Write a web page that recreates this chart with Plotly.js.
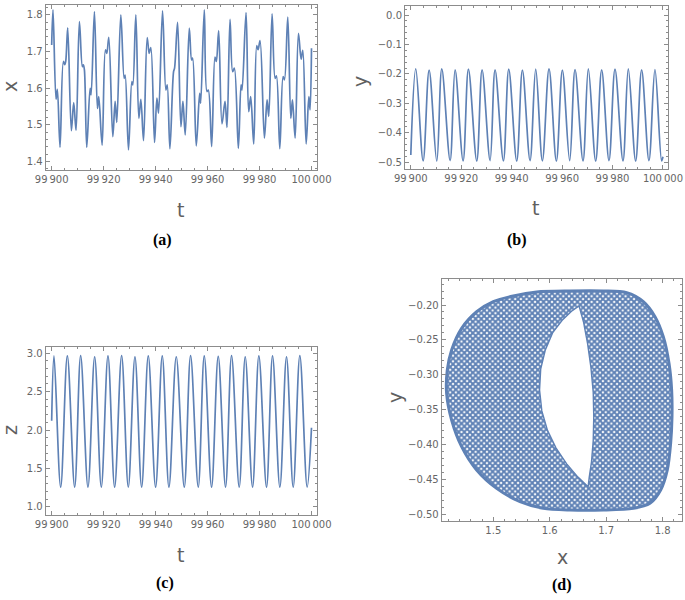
<!DOCTYPE html>
<html>
<head>
<meta charset="utf-8">
<script src="https://cdn.plot.ly/plotly-3.0.1.min.js"></script>
<style>html,body{margin:0;padding:0;background:#fff;}</style>
</head>
<body>
<div id="chart" style="width:685px;height:600px;"></div>
<script>
// ---------- (a) x(t) ----------
const tA = [99900.00, 99900.51, 99901.67, 99902.19, 99903.21, 99904.50, 99905.01, 99905.40, 99906.17, 99907.58,
  99908.48, 99909.38, 99910.67, 99911.82, 99912.21, 99912.60, 99913.50, 99914.78, 99915.17, 99916.45,
  99917.61, 99918.12, 99919.41, 99920.69, 99921.21, 99921.98, 99923.52, 99924.42, 99925.06, 99926.61,
  99927.89, 99928.28, 99929.56, 99930.85, 99931.23, 99932.39, 99933.55, 99934.32, 99935.35, 99936.76,
  99937.53, 99938.17, 99939.59, 99940.49, 99941.13, 99942.67, 99943.96, 99944.47, 99945.50, 99946.91,
  99947.30, 99948.46, 99949.74, 99950.51, 99951.41, 99952.96, 99953.86, 99954.24, 99955.65, 99956.94,
  99957.33, 99958.74, 99959.77, 99960.28, 99961.57, 99962.85, 99963.37, 99964.27, 99965.55, 99966.71,
  99967.48, 99968.64, 99969.66, 99970.31, 99971.85, 99972.88, 99973.26, 99974.81, 99975.83, 99976.60,
  99977.76, 99978.92, 99979.43, 99980.20, 99981.87, 99982.90, 99983.55, 99984.83, 99985.99, 99986.50,
  99987.79, 99989.07, 99989.59, 99990.87, 99992.03, 99992.67, 99993.70, 99994.98, 99996.01, 99996.65,
  99997.94, 99998.97, 99999.45, 100000.00];
const xA = [1.718, 1.814, 1.570, 1.597, 1.439, 1.673, 1.664, 1.673, 1.765, 1.484,
  1.561, 1.485, 1.782, 1.659, 1.664, 1.650, 1.439, 1.600, 1.582, 1.809,
  1.545, 1.577, 1.445, 1.705, 1.695, 1.739, 1.468, 1.564, 1.507, 1.800,
  1.627, 1.636, 1.432, 1.618, 1.609, 1.800, 1.518, 1.570, 1.457, 1.738,
  1.695, 1.711, 1.452, 1.573, 1.532, 1.811, 1.595, 1.609, 1.435, 1.645,
  1.655, 1.780, 1.495, 1.564, 1.473, 1.764, 1.677, 1.682, 1.443, 1.586,
  1.559, 1.814, 1.591, 1.595, 1.441, 1.685, 1.673, 1.757, 1.503, 1.564,
  1.493, 1.788, 1.645, 1.655, 1.436, 1.609, 1.595, 1.806, 1.536, 1.577,
  1.448, 1.716, 1.705, 1.730, 1.464, 1.568, 1.523, 1.803, 1.627, 1.634,
  1.435, 1.632, 1.623, 1.794, 1.518, 1.568, 1.464, 1.750, 1.679, 1.703,
  1.448, 1.577, 1.541, 1.709];

// ---------- (b) y(t) ----------
const tB = [99900.00, 99901.98, 99904.89, 99907.27, 99910.30, 99912.29, 99915.59, 99917.57, 99920.74, 99922.85,
  99926.16, 99928.27, 99931.44, 99933.42, 99936.72, 99938.84, 99942.01, 99944.26, 99947.29, 99949.54,
  99952.18, 99954.82, 99957.73, 99960.11, 99963.01, 99965.13, 99968.30, 99970.41, 99973.32, 99975.69,
  99978.60, 99980.98, 99984.15, 99986.26, 99989.17, 99991.54, 99994.45, 99996.83, 99999.47, 100000.00];
const yB = [-0.475, -0.183, -0.495, -0.187, -0.496, -0.183, -0.494, -0.186, -0.495, -0.184,
  -0.496, -0.186, -0.494, -0.186, -0.495, -0.184, -0.496, -0.187, -0.494, -0.184,
  -0.495, -0.183, -0.496, -0.187, -0.494, -0.185, -0.495, -0.183, -0.496, -0.186,
  -0.494, -0.184, -0.495, -0.183, -0.496, -0.186, -0.494, -0.185, -0.495, -0.481];

// ---------- (c) z(t) ----------
const tC = [99900.00, 99900.90, 99903.46, 99906.03, 99908.85, 99911.15, 99913.97, 99916.54, 99919.10, 99921.67,
  99924.23, 99926.92, 99929.49, 99932.05, 99934.62, 99937.18, 99940.00, 99942.56, 99945.13, 99947.95,
  99951.03, 99953.46, 99956.41, 99958.72, 99961.54, 99964.10, 99966.92, 99969.23, 99972.18, 99974.49,
  99977.31, 99979.74, 99982.69, 99985.00, 99987.82, 99990.38, 99992.95, 99995.51, 99998.33, 100000.00];
const zC = [2.12, 2.965, 1.255, 2.965, 1.255, 2.970, 1.255, 2.955, 1.255, 2.965,
  1.255, 2.970, 1.255, 2.955, 1.255, 2.965, 1.255, 2.965, 1.255, 2.955,
  1.255, 2.970, 1.255, 2.965, 1.255, 2.960, 1.255, 2.970, 1.255, 2.955,
  1.255, 2.965, 1.255, 2.965, 1.255, 2.955, 1.255, 2.970, 1.255, 2.03];

// ---------- (d) phase portrait x–y: outer boundary and inner hole ----------
const outerX = [1.5354, 1.5768, 1.6358, 1.6949, 1.7363, 1.7658, 1.7865, 1.8012, 1.8113, 1.8160,
  1.8166, 1.8142, 1.8083, 1.7965, 1.7776, 1.7481, 1.6949, 1.6358, 1.5886, 1.5473,
  1.5059, 1.4705, 1.4439, 1.4262, 1.4173, 1.4185, 1.4262, 1.4439, 1.4705, 1.5000, 1.5354];
const outerY = [-0.1871, -0.1813, -0.1799, -0.1799, -0.1823, -0.1952, -0.2167, -0.2455, -0.2837, -0.3220,
  -0.3603, -0.3986, -0.4368, -0.4656, -0.4847, -0.4919, -0.4943, -0.4943, -0.4919, -0.4823,
  -0.4632, -0.4368, -0.4033, -0.3651, -0.3268, -0.2933, -0.2646, -0.2335, -0.2096, -0.1952, -0.1871];
const holeX = [1.652, 1.660, 1.667, 1.673, 1.677, 1.678, 1.677, 1.674, 1.670, 1.668,
  1.650, 1.630, 1.611, 1.596, 1.586, 1.582, 1.584, 1.592, 1.605, 1.622, 1.640, 1.652];
const holeY = [-0.2014, -0.225, -0.255, -0.290, -0.325, -0.360, -0.395, -0.425, -0.447, -0.461,
  -0.447, -0.428, -0.405, -0.380, -0.352, -0.322, -0.292, -0.265, -0.240, -0.222, -0.208, -0.2014];

// ---------- tick labels ----------
const tTickVals = [99900, 99920, 99940, 99960, 99980, 100000];
const tTickText = ['99\u2009900', '99\u2009920', '99\u2009940', '99\u2009960', '99\u2009980', '100\u2009000'];

const BLUE = '#5E81B5';
const FRAME = '#8c8c8c';
const W = 685, H = 600;

function axisBase(extra) {
  return Object.assign({
    showline: true, mirror: 'ticks', linecolor: FRAME, linewidth: 1,
    ticks: 'inside', ticklen: 4, tickcolor: FRAME, tickwidth: 1,
    showgrid: false, zeroline: false, fixedrange: true,
    tickfont: {family: 'DejaVu Sans, sans-serif', size: 10, color: '#666666'}
  }, extra);
}
function tAxis(domain, anchor) {
  return axisBase({
    domain: domain, anchor: anchor, range: [99897.7, 100002.0],
    tickmode: 'array', tickvals: tTickVals, ticktext: tTickText,
    minor: {ticks: 'inside', ticklen: 2, tickcolor: FRAME, tickmode: 'linear', tick0: 99900, dtick: 5, showgrid: false}
  });
}
function dx(px) { return px / W; }
function dy(py) { return 1 - py / H; }

const line = {color: BLUE, width: 1.7, shape: 'spline', smoothing: 1};

const traces = [
  {x: tA, y: xA, xaxis: 'x', yaxis: 'y', type: 'scatter', mode: 'lines', line: line, hoverinfo: 'skip'},
  {x: tB, y: yB, xaxis: 'x2', yaxis: 'y2', type: 'scatter', mode: 'lines', line: line, hoverinfo: 'skip'},
  {x: tC, y: zC, xaxis: 'x3', yaxis: 'y3', type: 'scatter', mode: 'lines', line: line, hoverinfo: 'skip'},
  {x: outerX, y: outerY, xaxis: 'x4', yaxis: 'y4', type: 'scatter', mode: 'lines',
   line: {color: BLUE, width: 3, shape: 'spline', smoothing: 0.8}, fill: 'toself', fillcolor: '#ffffff',
   fillpattern: {shape: 'x', fgcolor: BLUE, bgcolor: '#ffffff', size: 4, solidity: 0.72},
   hoverinfo: 'skip'},
  {x: holeX, y: holeY, xaxis: 'x4', yaxis: 'y4', type: 'scatter', mode: 'lines',
   line: {color: BLUE, width: 1.4, shape: 'linear'}, fill: 'toself', fillcolor: '#ffffff',
   hoverinfo: 'skip'}
];

const titleFont = {family: 'DejaVu Sans, sans-serif', size: 19, color: '#606060'};
const panelFont = {family: 'Liberation Serif, Times New Roman, serif', size: 16, color: '#000000'};
function ann(text, px, py, font, angle) {
  return {text: text, x: dx(px), y: dy(py), xref: 'paper', yref: 'paper', showarrow: false,
          xanchor: 'center', yanchor: 'middle', font: font, textangle: angle || 0};
}

const layout = {
  width: W, height: H, margin: {l: 0, r: 0, t: 0, b: 0},
  paper_bgcolor: '#ffffff', plot_bgcolor: '#ffffff', showlegend: false,
  xaxis: tAxis([dx(45.7), dx(316.7)], 'y'),
  yaxis: axisBase({domain: [dy(170), dy(5)], anchor: 'x', range: [1.377, 1.827], dtick: 0.1, tick0: 1.4, tickformat: '.1f',
    minor: {ticks: 'inside', ticklen: 2, tickcolor: FRAME, dtick: 0.02, showgrid: false}}),
  xaxis2: tAxis([dx(405), dx(668)], 'y2'),
  yaxis2: axisBase({domain: [dy(169), dy(6)], anchor: 'x2', range: [-0.5227, 0.0306], dtick: 0.1, tick0: 0, tickformat: '.1f',
    minor: {ticks: 'inside', ticklen: 2, tickcolor: FRAME, dtick: 0.02, showgrid: false}}),
  xaxis3: tAxis([dx(45.7), dx(316.7)], 'y3'),
  yaxis3: axisBase({domain: [dy(515), dy(347.3)], anchor: 'x3', range: [0.892, 3.078], dtick: 0.5, tick0: 1, tickformat: '.1f',
    minor: {ticks: 'inside', ticklen: 2, tickcolor: FRAME, dtick: 0.1, showgrid: false}}),
  xaxis4: axisBase({domain: [dx(441.7), dx(681.7)], anchor: 'y4', range: [1.4086, 1.8338], dtick: 0.1, tick0: 1.5, tickformat: '.1f',
    minor: {ticks: 'inside', ticklen: 2, tickcolor: FRAME, dtick: 0.02, showgrid: false}}),
  yaxis4: axisBase({domain: [dy(520.7), dy(279.3)], anchor: 'x4', range: [-0.5096, -0.1631], dtick: 0.05, tick0: -0.5, tickformat: '.2f',
    minor: {ticks: 'inside', ticklen: 2, tickcolor: FRAME, dtick: 0.01, showgrid: false}}),
  annotations: [
    ann('x', 10, 87, titleFont, -90),
    ann('t', 180, 210, titleFont),
    ann('<b>(a)</b>', 162, 240, panelFont),
    ann('y', 360, 82, titleFont, -90),
    ann('t', 535, 208, titleFont),
    ann('<b>(b)</b>', 517, 240, panelFont),
    ann('z', 10, 430, titleFont, -90),
    ann('t', 180, 555, titleFont),
    ann('<b>(c)</b>', 165, 583, panelFont),
    ann('y', 395, 398, titleFont, -90),
    ann('x', 562, 557, titleFont),
    ann('<b>(d)</b>', 562, 585, panelFont)
  ]
};

Plotly.newPlot('chart', traces, layout, {displayModeBar: false, staticPlot: true});
</script>
</body>
</html>
